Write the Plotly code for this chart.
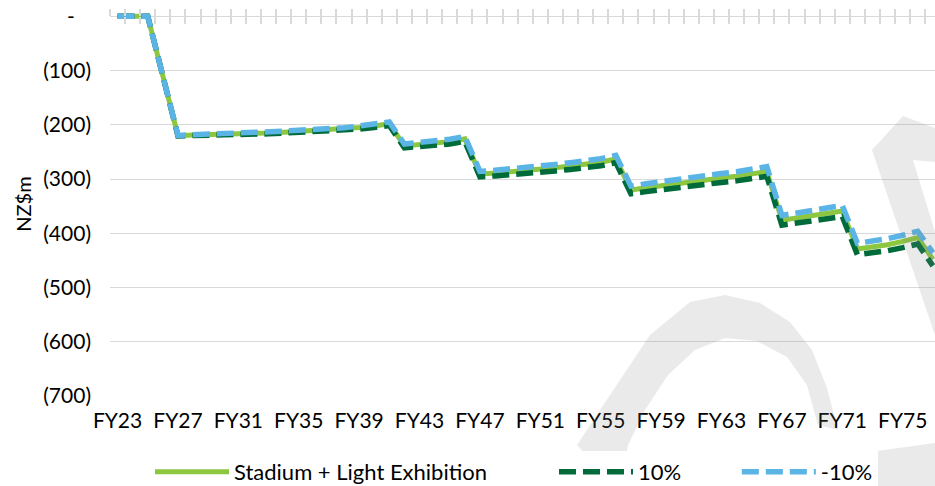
import plotly.graph_objects as go

years = [f"FY{y}" for y in range(23, 78)]
base = [0, 0, 0, -110, -220, -219, -218.5, -218, -217, -216, -215, -213.5, -212, -211, -210,
        -208, -205, -202, -198, -239, -237, -235, -231, -226, -291, -289, -287, -284, -281,
        -279, -276, -273, -269, -263, -320, -316, -312, -308, -305, -302, -298, -295, -291,
        -286, -376, -372, -368, -364, -359, -429, -426, -421, -415, -408, -448]
plus10 = [0, 0, 0, -110, -220.5, -219.7, -219.4, -219, -218.2, -217.4, -216.6, -215.3, -214,
          -213.2, -212.4, -210.6, -207.8, -205, -201.2, -242.5, -240.8, -239, -235.3, -230.6,
          -296, -294.2, -292.4, -289.6, -286.8, -285, -282.2, -279.4, -275.6, -269.8, -327,
          -323.2, -319.4, -315.6, -312.8, -310, -306.2, -303.4, -299.6, -294.8, -385, -381.3,
          -377.6, -373.9, -369.2, -439.5, -436.8, -432.1, -426.4, -419.7, -460]
minus10 = [0, 0, 0, -110, -219.5, -218.3, -217.6, -217, -215.8, -214.6, -213.4, -211.7, -210,
           -208.8, -207.6, -205.4, -202.2, -199, -194.8, -235.5, -233.2, -231, -226.7, -221.4,
           -286, -283.8, -281.6, -278.4, -275.2, -273, -269.8, -266.6, -262.4, -256.2, -313,
           -308.8, -304.6, -300.4, -297.2, -294, -289.8, -286.6, -282.4, -277.2, -367, -362.7,
           -358.4, -354.1, -348.8, -418.5, -415.2, -409.9, -403.6, -396.3, -436]
series_names = ["Stadium + Light Exhibition", "10%", "-10%"]
y_ticks = [0, -100, -200, -300, -400, -500, -600, -700]
y_labels = ["-\u00a0\u00a0\u00a0", "(100)", "(200)", "(300)", "(400)", "(500)", "(600)", "(700)"]

FONT = "Lato"
idx = list(range(len(years)))
label_idx = idx[::4]
NB = "\u00a0"

fig = go.Figure()
fig.add_trace(go.Scatter(x=idx, y=base, mode="lines", name=series_names[0] + NB * 11,
                         line=dict(color="#8DC63F", width=5)))
fig.add_trace(go.Scatter(x=idx, y=plus10, mode="lines", name=series_names[1] + NB * 9,
                         line=dict(color="#006B3A", width=5.5, dash="17px,7px")))
fig.add_trace(go.Scatter(x=idx, y=minus10, mode="lines", name=series_names[2],
                         line=dict(color="#5AB4E5", width=5.5, dash="17px,7px")))
# invisible helpers carrying the top crossing tick marks
for ax in ["x2", "x3"]:
    fig.add_trace(go.Scatter(x=idx, y=base, xaxis=ax, mode="lines", showlegend=False,
                             hoverinfo="skip", line=dict(width=0), opacity=0))

xr = [-0.5, 54.14]
minor_ticks = [i - 0.5 for i in range(len(years) + 1)]
zero_frac = 700 / 708

# faint watermark fragments (pixel outlines -> paper coords)
PL, PR, PT, PB = 110, 935, 12, 396


def wm_path(pts):
    conv = [((x - PL) / (PR - PL), (PB - y) / (PB - PT)) for x, y in pts]
    return "M " + " L ".join(f"{a:.4f},{b:.4f}" for a, b in conv) + " Z"


wm_shapes = [
    [(872, 150), (903, 116), (935, 128), (935, 162), (913, 160), (935, 232), (935, 335)],
    [(577, 445), (610, 395), (650, 335), (690, 302), (725, 295), (760, 303), (790, 322),
     (812, 350), (827, 388), (838, 430), (818, 425), (807, 385), (787, 357), (757, 341),
     (725, 338), (695, 350), (668, 375), (645, 410), (628, 445), (620, 486), (615, 486)],
    [(833, 457), (935, 443), (935, 486), (840, 486)],
]
shapes = [dict(type="path", xref="paper", yref="paper", path=wm_path(p),
               fillcolor="rgba(128,128,128,0.17)", line=dict(width=0), layer="above")
          for p in wm_shapes]

fig.update_layout(
    width=935, height=486,
    margin=dict(l=PL, r=0, t=PT, b=486 - PB, autoexpand=False),
    paper_bgcolor="white", plot_bgcolor="white",
    font=dict(family=FONT, size=21, color="#000000"),
    showlegend=True,
    legend=dict(orientation="h", xref="container", yref="container",
                x=150 / 935, xanchor="left", y=(486 - 472) / 486, yanchor="middle",
                itemwidth=74, font=dict(size=22), traceorder="normal"),
    xaxis=dict(range=xr, tickmode="array", tickvals=label_idx,
               ticktext=[years[i] for i in label_idx], showgrid=False, zeroline=False,
               showline=False, ticks="", ticklabelstandoff=10, automargin=False),
    xaxis2=dict(range=xr, overlaying="x", anchor="free", position=zero_frac, side="top",
                tickmode="array", tickvals=minor_ticks, ticks="outside", ticklen=7,
                tickwidth=1.5, tickcolor="#D9D9D9", showticklabels=False, showgrid=False,
                zeroline=False, showline=False, automargin=False),
    xaxis3=dict(range=xr, overlaying="x", anchor="free", position=zero_frac, side="top",
                tickmode="array", tickvals=minor_ticks, ticks="inside", ticklen=7,
                tickwidth=1.5, tickcolor="#D9D9D9", showticklabels=False, showgrid=False,
                zeroline=False, showline=False, automargin=False),
    yaxis=dict(range=[-700, 8], tickmode="array", tickvals=y_ticks, ticktext=y_labels,
               showgrid=True, gridcolor="#D9D9D9", gridwidth=1.2, zeroline=False,
               showline=False, ticks="", ticklabelstandoff=18, automargin=False,
               title=dict(text="NZ$m", standoff=6, font=dict(size=20))),
    shapes=shapes,
)

fig.write_html("out.html")
